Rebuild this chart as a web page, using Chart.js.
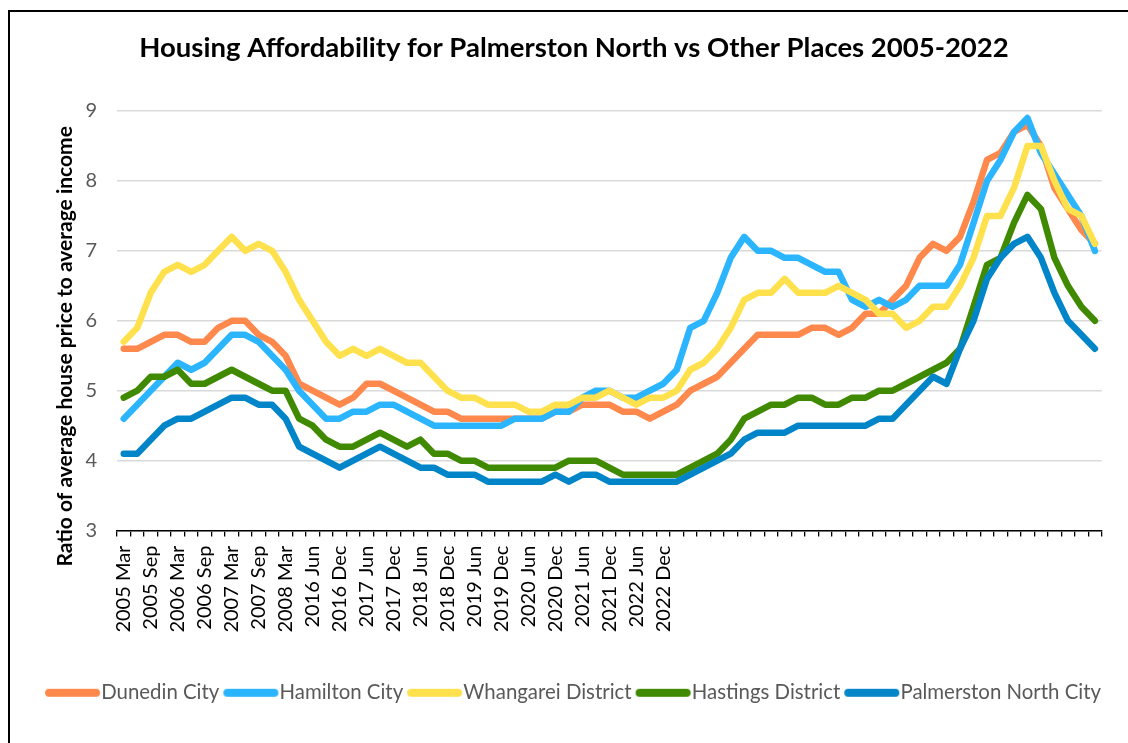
<!DOCTYPE html>
<html>
<head>
<meta charset="utf-8">
<script src="https://cdn.jsdelivr.net/npm/chart.js@4"></script>
<style>
    html, body { margin: 0; padding: 0; background: #fff; overflow: hidden; }
    #wrap { position: relative; width: 1128px; height: 743px; }
    #frame {
        position: absolute; left: 8px; top: 10px; width: 1200px; height: 800px;
        border: 2px solid #000; box-sizing: border-box; pointer-events: none;
    }
</style>
</head>
<body>
<div id="wrap">
    <div id="frame"></div>
    <canvas id="affordChart"></canvas>
</div>
<script>
// tick labels shown on every second quarter; later quarters are unlabelled
const tickLabels = [
    "2005 Mar", "2005 Sep", "2006 Mar", "2006 Sep", "2007 Mar", "2007 Sep", "2008 Mar",
    "2016 Jun", "2016 Dec", "2017 Jun", "2017 Dec", "2018 Jun", "2018 Dec", "2019 Jun",
    "2019 Dec", "2020 Jun", "2020 Dec", "2021 Jun", "2021 Dec", "2022 Jun", "2022 Dec"
];
const pointCount = 73;

const dunedin = [
    5.6, 5.6, 5.7, 5.8, 5.8, 5.7, 5.7, 5.9, 6.0, 6.0, 5.8, 5.7, 5.5, 5.1, 5.0, 4.9, 4.8, 4.9, 5.1, 5.1, 5.0, 4.9, 4.8,
    4.7, 4.7, 4.6, 4.6, 4.6, 4.6, 4.6, 4.6, 4.6, 4.7, 4.7, 4.8, 4.8, 4.8, 4.7, 4.7, 4.6, 4.7, 4.8, 5.0, 5.1, 5.2, 5.4, 5.6,
    5.8, 5.8, 5.8, 5.8, 5.9, 5.9, 5.8, 5.9, 6.1, 6.1, 6.3, 6.5, 6.9, 7.1, 7.0, 7.2, 7.7, 8.3, 8.4, 8.7, 8.8, 8.5, 7.9, 7.6, 7.3, 7.1
];
const hamilton = [
    4.6, 4.8, 5.0, 5.2, 5.4, 5.3, 5.4, 5.6, 5.8, 5.8, 5.7, 5.5, 5.3, 5.0, 4.8, 4.6, 4.6, 4.7, 4.7, 4.8, 4.8, 4.7, 4.6,
    4.5, 4.5, 4.5, 4.5, 4.5, 4.5, 4.6, 4.6, 4.6, 4.7, 4.7, 4.9, 5.0, 5.0, 4.9, 4.9, 5.0, 5.1, 5.3, 5.9, 6.0, 6.4, 6.9, 7.2,
    7.0, 7.0, 6.9, 6.9, 6.8, 6.7, 6.7, 6.3, 6.2, 6.3, 6.2, 6.3, 6.5, 6.5, 6.5, 6.8, 7.4, 8.0, 8.3, 8.7, 8.9, 8.4, 8.1, 7.8, 7.5, 7.0
];
const whangarei = [
    5.7, 5.9, 6.4, 6.7, 6.8, 6.7, 6.8, 7.0, 7.2, 7.0, 7.1, 7.0, 6.7, 6.3, 6.0, 5.7, 5.5, 5.6, 5.5, 5.6, 5.5, 5.4, 5.4,
    5.2, 5.0, 4.9, 4.9, 4.8, 4.8, 4.8, 4.7, 4.7, 4.8, 4.8, 4.9, 4.9, 5.0, 4.9, 4.8, 4.9, 4.9, 5.0, 5.3, 5.4, 5.6, 5.9, 6.3,
    6.4, 6.4, 6.6, 6.4, 6.4, 6.4, 6.5, 6.4, 6.3, 6.1, 6.1, 5.9, 6.0, 6.2, 6.2, 6.5, 6.9, 7.5, 7.5, 7.9, 8.5, 8.5, 8.0, 7.6, 7.5, 7.1
];
const hastings = [
    4.9, 5.0, 5.2, 5.2, 5.3, 5.1, 5.1, 5.2, 5.3, 5.2, 5.1, 5.0, 5.0, 4.6, 4.5, 4.3, 4.2, 4.2, 4.3, 4.4, 4.3, 4.2, 4.3,
    4.1, 4.1, 4.0, 4.0, 3.9, 3.9, 3.9, 3.9, 3.9, 3.9, 4.0, 4.0, 4.0, 3.9, 3.8, 3.8, 3.8, 3.8, 3.8, 3.9, 4.0, 4.1, 4.3, 4.6,
    4.7, 4.8, 4.8, 4.9, 4.9, 4.8, 4.8, 4.9, 4.9, 5.0, 5.0, 5.1, 5.2, 5.3, 5.4, 5.6, 6.2, 6.8, 6.9, 7.4, 7.8, 7.6, 6.9, 6.5, 6.2, 6.0
];
const palmerston = [
    4.1, 4.1, 4.3, 4.5, 4.6, 4.6, 4.7, 4.8, 4.9, 4.9, 4.8, 4.8, 4.6, 4.2, 4.1, 4.0, 3.9, 4.0, 4.1, 4.2, 4.1, 4.0, 3.9,
    3.9, 3.8, 3.8, 3.8, 3.7, 3.7, 3.7, 3.7, 3.7, 3.8, 3.7, 3.8, 3.8, 3.7, 3.7, 3.7, 3.7, 3.7, 3.7, 3.8, 3.9, 4.0, 4.1, 4.3,
    4.4, 4.4, 4.4, 4.5, 4.5, 4.5, 4.5, 4.5, 4.5, 4.6, 4.6, 4.8, 5.0, 5.2, 5.1, 5.6, 6.0, 6.6, 6.9, 7.1, 7.2, 6.9, 6.4, 6.0, 5.8, 5.6
];

const seriesNames = ["Dunedin City", "Hamilton City", "Whangarei District", "Hastings District", "Palmerston North City"];
const seriesColors = ["#ff884d", "#2cb5ff", "#ffe14d", "#3f8a00", "#0085c9"];
const seriesData = [dunedin, hamilton, whangarei, hastings, palmerston];

const categories = [];
for (let i = 0; i < pointCount; i++) {
    categories.push(i % 2 === 0 && i / 2 < tickLabels.length ? tickLabels[i / 2] : "");
}

// legend swatch: a short thick line drawn on the right part of a small canvas,
// so it sits right against the label text like the original
function makeSwatch(color) {
    const c = document.createElement("canvas");
    c.width = 64;
    c.height = 10;
    const g = c.getContext("2d");
    g.strokeStyle = color;
    g.lineWidth = 8;
    g.lineCap = "round";
    g.beginPath();
    g.moveTo(12, 5);
    g.lineTo(59, 5);
    g.stroke();
    return c;
}
const swatches = seriesColors.map(makeSwatch);

Chart.defaults.font.family = "Lato";

const ctx = document.getElementById("affordChart").getContext("2d");
new Chart(ctx, {
    type: "line",
    data: {
        labels: categories,
        datasets: seriesData.map((d, i) => ({
            label: seriesNames[i],
            data: d,
            borderColor: seriesColors[i],
            backgroundColor: seriesColors[i],
            borderWidth: 6.5,
            borderJoinStyle: "round",
            borderCapStyle: "round",
            pointRadius: 0,
            tension: 0,
            fill: false,
            order: seriesData.length - 1 - i   // later series on top, like the original
        }))
    },
    options: {
        responsive: true,
        maintainAspectRatio: false,
        animation: false,
        layout: { padding: { left: 35, right: 15, top: 0, bottom: 30 } },
        plugins: {
            title: {
                display: true,
                text: "Housing Affordability for Palmerston North vs Other Places 2005-2022",
                color: "#000",
                font: { size: 27.5, weight: "bold" },
                padding: { top: 31.5, bottom: 46.5 }
            },
            legend: {
                position: "bottom",
                reverse: true,
                labels: {
                    color: "#595959",
                    font: { size: 20.4 },
                    usePointStyle: true,
                    pointStyleWidth: 44,
                    boxHeight: 20,
                    padding: 6,
                    generateLabels: (chart) =>
                        Chart.defaults.plugins.legend.labels.generateLabels(chart)
                            .map(l => ({ ...l, pointStyle: swatches[l.datasetIndex] }))
                }
            },
            tooltip: { enabled: false }
        },
        scales: {
            x: {
                offset: true,
                afterFit: (scale) => { scale.height = 146; },
                grid: {
                    offset: true,
                    drawOnChartArea: false,
                    color: "#000",
                    lineWidth: 1.3,
                    tickLength: 6
                },
                border: { display: true, color: "#000", width: 1.5 },
                ticks: {
                    autoSkip: false,
                    maxRotation: 90,
                    minRotation: 90,
                    padding: 9,
                    color: "#000",
                    font: { size: 20 }
                }
            },
            y: {
                min: 3,
                max: 9,
                afterFit: (scale) => { scale.width = 82; },
                ticks: { stepSize: 1, color: "#595959", padding: 20, font: { size: 20 } },
                grid: { color: "#d9d9d9", lineWidth: 1.5, drawTicks: false },
                border: { display: false },
                title: {
                    display: true,
                    // trailing spaces push the centred text down to where the original sits
                    text: "Ratio of average house price to average income\u00a0\u00a0\u00a0\u00a0\u00a0\u00a0\u00a0\u00a0\u00a0\u00a0",
                    color: "#000",
                    font: { size: 21, weight: "bold" },
                    padding: { top: 17.4, bottom: 0 }
                }
            }
        }
    }
});
</script>
</body>
</html>
